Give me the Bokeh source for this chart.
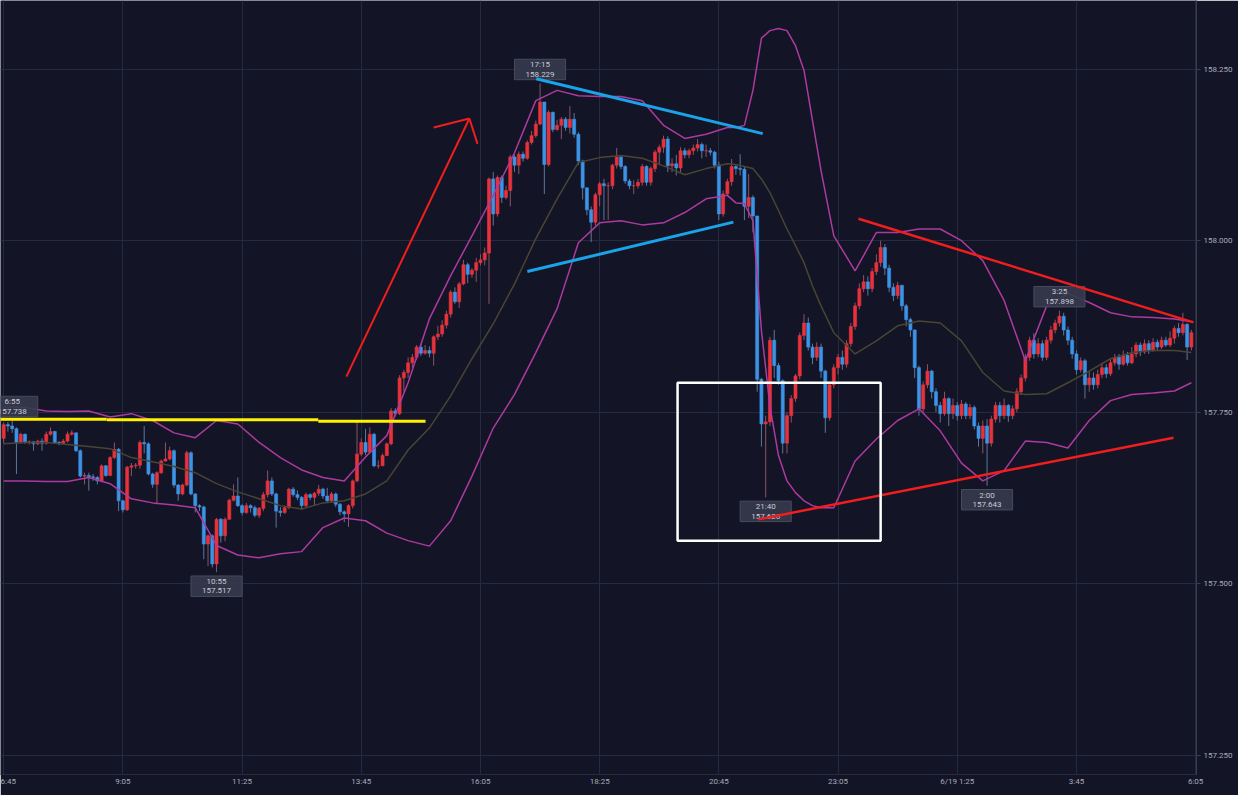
from bokeh.plotting import figure
from bokeh.models import Range1d, FixedTicker, NumeralTickFormatter
from bokeh.embed import file_html
from bokeh.resources import INLINE
from bokeh.core.properties import value

# ---------------- data (USD/JPY 5-minute candles, 6/18 6:45 -> 6/19 6:00) ----------------
first_open = 157.712
closes = [
    157.732, 157.730, 157.726, 157.706, 157.718, 157.706, 157.707, 157.704, 157.708, 157.705,
    157.718, 157.722, 157.706, 157.705, 157.708, 157.718, 157.720, 157.694, 157.657, 157.658,
    157.656, 157.655, 157.650, 157.672, 157.658, 157.684, 157.696, 157.621, 157.608, 157.670,
    157.672, 157.673, 157.706, 157.704, 157.660, 157.645, 157.662, 157.679, 157.682, 157.694,
    157.644, 157.631, 157.644, 157.691, 157.631, 157.614, 157.612, 157.558, 157.570, 157.529,
    157.594, 157.570, 157.594, 157.622, 157.628, 157.614, 157.604, 157.614, 157.611, 157.600,
    157.610, 157.630, 157.650, 157.631, 157.606, 157.604, 157.611, 157.638, 157.630, 157.626,
    157.614, 157.630, 157.626, 157.632, 157.638, 157.628, 157.621, 157.631, 157.616, 157.605,
    157.602, 157.614, 157.650, 157.689, 157.706, 157.692, 157.718, 157.672, 157.672, 157.687,
    157.704, 157.752, 157.748, 157.800, 157.808, 157.822, 157.830, 157.845, 157.836, 157.840,
    157.836, 157.860, 157.864, 157.877, 157.893, 157.925, 157.911, 157.937, 157.965, 157.951,
    157.957, 157.968, 157.972, 157.982, 158.090, 158.039, 158.092, 158.063, 158.073, 158.122,
    158.110, 158.126, 158.120, 158.143, 158.153, 158.170, 158.202, 158.111, 158.187, 158.162,
    158.168, 158.177, 158.165, 158.177, 158.155, 158.116, 158.077, 158.045, 158.027, 158.067,
    158.083, 158.080, 158.080, 158.110, 158.122, 158.108, 158.087, 158.080, 158.080, 158.085,
    158.108, 158.085, 158.105, 158.129, 158.136, 158.148, 158.109, 158.112, 158.106, 158.131,
    158.125, 158.131, 158.135, 158.140, 158.131, 158.131, 158.129, 158.110, 158.039, 158.068,
    158.086, 158.108, 158.105, 158.104, 158.050, 158.063, 158.036, 157.798, 157.733, 157.736,
    157.855, 157.818, 157.796, 157.705, 157.745, 157.770, 157.803, 157.862, 157.880, 157.845,
    157.830, 157.845, 157.810, 157.742, 157.790, 157.815, 157.830, 157.820, 157.850, 157.875,
    157.905, 157.930, 157.940, 157.930, 157.955, 157.968, 157.990, 157.960, 157.932, 157.920,
    157.935, 157.905, 157.885, 157.870, 157.815, 157.755, 157.790, 157.810, 157.780, 157.760,
    157.748, 157.770, 157.748, 157.760, 157.745, 157.762, 157.745, 157.757, 157.730, 157.712,
    157.730, 157.705, 157.740, 157.760, 157.745, 157.760, 157.745, 157.755, 157.780, 157.800,
    157.830, 157.855, 157.835, 157.850, 157.830, 157.855, 157.870, 157.880, 157.890, 157.870,
    157.855, 157.835, 157.812, 157.825, 157.790, 157.800, 157.790, 157.805, 157.815, 157.806,
    157.822, 157.830, 157.820, 157.833, 157.822, 157.835, 157.848, 157.838, 157.850, 157.840,
    157.852, 157.845, 157.855, 157.848, 157.858, 157.872, 157.866, 157.878, 157.845, 157.866,
]
highs = [
    157.735, 157.736, 157.738, 157.728, 157.720, 157.719, 157.709, 157.708, 157.710, 157.712,
    157.722, 157.728, 157.723, 157.708, 157.711, 157.722, 157.724, 157.720, 157.696, 157.662,
    157.662, 157.660, 157.657, 157.674, 157.673, 157.686, 157.706, 157.698, 157.622, 157.672,
    157.676, 157.676, 157.709, 157.730, 157.706, 157.662, 157.664, 157.681, 157.706, 157.700,
    157.696, 157.645, 157.646, 157.694, 157.693, 157.632, 157.616, 157.614, 157.572, 157.572,
    157.596, 157.596, 157.597, 157.624, 157.645, 157.655, 157.616, 157.618, 157.616, 157.614,
    157.612, 157.634, 157.665, 157.655, 157.633, 157.612, 157.614, 157.640, 157.641, 157.636,
    157.628, 157.633, 157.632, 157.634, 157.644, 157.640, 157.640, 157.634, 157.633, 157.618,
    157.607, 157.616, 157.652, 157.736, 157.712, 157.726, 157.728, 157.720, 157.680, 157.690,
    157.706, 157.756, 157.756, 157.804, 157.812, 157.830, 157.835, 157.848, 157.850, 157.848,
    157.846, 157.862, 157.876, 157.884, 157.898, 157.928, 157.932, 157.940, 157.972, 157.968,
    157.960, 157.975, 157.980, 157.990, 158.092, 158.100, 158.095, 158.095, 158.080, 158.125,
    158.125, 158.130, 158.130, 158.146, 158.160, 158.175, 158.229, 158.202, 158.190, 158.188,
    158.176, 158.180, 158.180, 158.196, 158.186, 158.158, 158.118, 158.075, 158.050, 158.070,
    158.086, 158.090, 158.085, 158.112, 158.135, 158.124, 158.110, 158.090, 158.088, 158.090,
    158.112, 158.110, 158.108, 158.132, 158.140, 158.153, 158.152, 158.120, 158.125, 158.136,
    158.135, 158.134, 158.140, 158.148, 158.143, 158.140, 158.135, 158.131, 158.115, 158.073,
    158.090, 158.119, 158.110, 158.126, 158.108, 158.097, 158.066, 158.036, 157.800, 157.745,
    157.860, 157.870, 157.822, 157.798, 157.750, 157.775, 157.806, 157.866, 157.893, 157.888,
    157.850, 157.852, 157.850, 157.812, 157.795, 157.820, 157.835, 157.840, 157.855, 157.880,
    157.910, 157.938, 157.950, 157.948, 157.960, 157.980, 158.000, 157.995, 157.965, 157.938,
    157.940, 157.925, 157.908, 157.888, 157.870, 157.818, 157.795, 157.820, 157.812, 157.785,
    157.765, 157.780, 157.772, 157.770, 157.765, 157.768, 157.765, 157.762, 157.760, 157.735,
    157.738, 157.740, 157.745, 157.765, 157.765, 157.770, 157.762, 157.760, 157.785, 157.805,
    157.835, 157.860, 157.865, 157.858, 157.855, 157.860, 157.876, 157.885, 157.898, 157.895,
    157.875, 157.860, 157.840, 157.830, 157.828, 157.810, 157.808, 157.812, 157.822, 157.820,
    157.828, 157.835, 157.835, 157.840, 157.838, 157.845, 157.852, 157.852, 157.856, 157.855,
    157.858, 157.856, 157.860, 157.860, 157.868, 157.876, 157.880, 157.895, 157.880, 157.870,
]
lows = [
    157.705, 157.722, 157.720, 157.660, 157.704, 157.704, 157.703, 157.694, 157.702, 157.694,
    157.703, 157.716, 157.704, 157.702, 157.703, 157.706, 157.716, 157.692, 157.655, 157.645,
    157.636, 157.650, 157.645, 157.648, 157.656, 157.657, 157.682, 157.606, 157.604, 157.606,
    157.657, 157.668, 157.668, 157.690, 157.658, 157.640, 157.616, 157.660, 157.678, 157.680,
    157.640, 157.621, 157.629, 157.642, 157.629, 157.604, 157.606, 157.536, 157.526, 157.524,
    157.517, 157.560, 157.562, 157.594, 157.620, 157.612, 157.600, 157.602, 157.604, 157.597,
    157.596, 157.606, 157.626, 157.628, 157.582, 157.598, 157.602, 157.609, 157.627, 157.622,
    157.608, 157.612, 157.622, 157.614, 157.628, 157.624, 157.618, 157.618, 157.612, 157.600,
    157.590, 157.583, 157.610, 157.648, 157.686, 157.688, 157.690, 157.670, 157.668, 157.672,
    157.686, 157.702, 157.744, 157.746, 157.780, 157.800, 157.815, 157.826, 157.832, 157.834,
    157.830, 157.818, 157.855, 157.860, 157.872, 157.888, 157.908, 157.902, 157.935, 157.938,
    157.946, 157.940, 157.964, 157.964, 157.908, 158.022, 158.035, 158.055, 158.060, 158.050,
    158.100, 158.097, 158.115, 158.118, 158.140, 158.150, 158.168, 158.068, 158.108, 158.158,
    158.160, 158.148, 158.160, 158.156, 158.150, 158.110, 158.060, 158.037, 157.998, 158.022,
    158.050, 158.030, 158.030, 158.075, 158.105, 158.104, 158.083, 158.075, 158.068, 158.076,
    158.080, 158.080, 158.080, 158.100, 158.110, 158.128, 158.100, 158.100, 158.095, 158.100,
    158.120, 158.120, 158.125, 158.130, 158.120, 158.122, 158.124, 158.105, 158.030, 158.035,
    158.065, 158.080, 158.096, 158.095, 158.030, 158.033, 158.012, 157.780, 157.700, 157.626,
    157.730, 157.800, 157.790, 157.690, 157.690, 157.735, 157.765, 157.798, 157.855, 157.840,
    157.820, 157.825, 157.800, 157.720, 157.738, 157.785, 157.805, 157.812, 157.815, 157.845,
    157.870, 157.900, 157.925, 157.920, 157.925, 157.950, 157.962, 157.950, 157.925, 157.912,
    157.915, 157.898, 157.875, 157.860, 157.800, 157.745, 157.750, 157.785, 157.770, 157.750,
    157.735, 157.745, 157.730, 157.740, 157.738, 157.740, 157.740, 157.740, 157.725, 157.700,
    157.690, 157.643, 157.700, 157.735, 157.735, 157.740, 157.736, 157.740, 157.750, 157.775,
    157.795, 157.825, 157.828, 157.830, 157.825, 157.826, 157.850, 157.865, 157.875, 157.862,
    157.848, 157.828, 157.805, 157.808, 157.770, 157.780, 157.783, 157.785, 157.800, 157.800,
    157.803, 157.818, 157.812, 157.818, 157.818, 157.820, 157.830, 157.832, 157.835, 157.835,
    157.838, 157.840, 157.842, 157.845, 157.845, 157.850, 157.860, 157.862, 157.826, 157.840,
]

# x-axis ticks (bar index -> time label)
x_tick_bars = [0, 28, 56, 84, 112, 140, 168, 196, 224, 252, 280]
x_tick_labels = ["6:45", "9:05", "11:25", "13:45", "16:05", "18:25",
                 "20:45", "23:05", "6/19 1:25", "3:45", "6:05"]
y_ticks = [157.25, 157.5, 157.75, 158.0, 158.25]

# Bollinger bands (bar index, upper, middle, lower)
band_bars = [0, 5, 10, 15, 20, 25, 30, 35, 40, 45, 50, 55, 60, 65, 70, 75, 80, 85, 90, 95,
             100, 105, 110, 115, 120, 125, 130, 135, 140, 145, 150, 155, 160, 165, 170,
             172, 174, 176, 178, 180, 182, 184, 186, 188, 190, 192, 195,
             200, 205, 210, 215, 220, 225, 230, 235, 240, 245, 250, 255, 260, 265, 270, 275, 279]
bb_upper = [157.758, 157.757, 157.752, 157.751, 157.752, 157.743, 157.748, 157.738, 157.720, 157.713,
            157.738, 157.733, 157.706, 157.684, 157.666, 157.655, 157.650, 157.685, 157.716, 157.793,
            157.886, 157.949, 158.007, 158.066, 158.128, 158.204, 158.219, 158.211, 158.210, 158.210,
            158.204, 158.168, 158.149, 158.155, 158.165,
            158.165, 158.168, 158.219, 158.295, 158.306, 158.309, 158.306, 158.284, 158.248, 158.175,
            158.102, 158.007,
            157.956, 158.012, 158.012, 158.017, 158.017, 158.000, 157.971, 157.913, 157.825, 157.905,
            157.923, 157.910, 157.895, 157.889, 157.888, 157.886, 157.882]
bb_mid = [157.704, 157.706, 157.706, 157.703, 157.700, 157.697, 157.684, 157.678, 157.671, 157.662,
          157.646, 157.634, 157.624, 157.614, 157.609, 157.618, 157.621, 157.631, 157.650, 157.695,
          157.727, 157.774, 157.828, 157.879, 157.937, 158.003, 158.061, 158.114, 158.121, 158.124,
          158.120, 158.109, 158.096, 158.105, 158.112,
          158.111, 158.108, 158.105, 158.090, 158.070, 158.044, 158.017, 157.993, 157.968, 157.934,
          157.905, 157.866,
          157.835, 157.854, 157.876, 157.883, 157.880, 157.854, 157.808, 157.781, 157.776, 157.777,
          157.793, 157.810, 157.828, 157.837, 157.840, 157.840, 157.837]
bb_lower = [157.650, 157.650, 157.649, 157.649, 157.655, 157.646, 157.624, 157.618, 157.615, 157.611,
            157.556, 157.542, 157.538, 157.544, 157.547, 157.582, 157.596, 157.592, 157.574, 157.563,
            157.555, 157.592, 157.657, 157.727, 157.776, 157.837, 157.901, 157.997, 158.026, 158.029,
            158.023, 158.026, 158.041, 158.061, 158.066,
            158.055, 158.054, 158.029, 157.869, 157.759, 157.687, 157.650, 157.633, 157.621, 157.614,
            157.611, 157.611,
            157.679, 157.711, 157.738, 157.755, 157.723, 157.676, 157.650, 157.665, 157.708, 157.706,
            157.698, 157.738, 157.767, 157.776, 157.778, 157.781, 157.793]

# high / low markers
marker_bars = [2, 50, 126, 179, 231, 248]
marker_times = ["6:55", "10:55", "17:15", "21:40", "2:00", "3:25"]
marker_prices = [157.738, 157.517, 158.229, 157.626, 157.643, 157.898]
marker_is_high = [True, False, True, False, False, True]

# hand-drawn annotations (bar index, price)
yellow_x = [[-0.8, 24.2], [24.2, 73.9], [73.9, 99.1]]
yellow_y = [[157.740, 157.740], [157.739, 157.739], [157.737, 157.737]]
arrow_x = [[80.5, 109.4], [101.0, 109.4], [109.4, 111.3]]
arrow_y = [[157.802, 158.178], [158.165, 158.178], [158.178, 158.141]]
blue_x = [[125.1, 178.3], [123.0, 171.4]]
blue_y = [[158.236, 158.156], [157.955, 158.027]]
red_x = [[200.8, 279.5], [177.3, 274.8]]
red_y = [[158.032, 157.881], [157.594, 157.713]]
box_left, box_right, box_top, box_bottom = 158.3, 206.0, 157.793, 157.563

# ---------------- derived ----------------
bars = list(range(len(closes)))
opens = [first_open] + closes[:-1]
hi = [max(h, o, c) for h, o, c in zip(highs, opens, closes)]
lo = [min(l, o, c) for l, o, c in zip(lows, opens, closes)]
UP, DOWN = "#e8323b", "#3d93e6"
UPW, DOWNW = "#8a5566", "#5b789d"
is_up = [c >= o for o, c in zip(opens, closes)]
body_col = [UP if u else DOWN for u in is_up]
wick_col = [UPW if u else DOWNW for u in is_up]
tops = [max(o, c) for o, c in zip(opens, closes)]
bots = [min(o, c) for o, c in zip(opens, closes)]

BG = "#131426"
GRID = "#262a3e"
TXT = "#a9acb8"

p = figure(width=1238, height=795,
           x_range=Range1d(-0.75, 280.2), y_range=Range1d(157.2223, 158.3499),
           y_axis_location="right", output_backend="svg", toolbar_location=None,
           min_border_left=0, min_border_top=0, min_border_right=42, min_border_bottom=21,
           background_fill_color=BG, border_fill_color=BG, outline_line_color=None)

p.xgrid.ticker = FixedTicker(ticks=x_tick_bars)
p.ygrid.ticker = FixedTicker(ticks=y_ticks)
p.grid.grid_line_color = GRID
p.grid.grid_line_width = 1

p.xaxis.ticker = FixedTicker(ticks=x_tick_bars)
p.xaxis.major_label_overrides = {b: l for b, l in zip(x_tick_bars, x_tick_labels)}
p.xaxis.axis_line_color = GRID
p.xaxis.major_tick_line_color = None
p.xaxis.major_tick_out = 0
p.xaxis.major_tick_in = 0
p.xaxis.minor_tick_line_color = None
p.xaxis.major_label_standoff = 2
p.xaxis.major_label_text_font = "Roboto"
p.xaxis.major_label_text_font_size = "8px"
p.xaxis.major_label_text_color = TXT

p.yaxis.ticker = FixedTicker(ticks=y_ticks)
p.yaxis.formatter = NumeralTickFormatter(format="0.000")
p.yaxis.axis_line_color = "#3a3d50"
p.yaxis.major_tick_line_color = "#3a3d50"
p.yaxis.major_tick_out = 4
p.yaxis.major_tick_in = 0
p.yaxis.minor_tick_line_color = None
p.yaxis.major_label_standoff = 3
p.yaxis.major_label_text_font = "Roboto"
p.yaxis.major_label_text_font_size = "8px"
p.yaxis.major_label_text_color = TXT

# candles
p.segment(x0=bars, y0=hi, x1=bars, y1=lo, line_color=wick_col, line_width=1)
p.vbar(x=bars, width=0.72, top=tops, bottom=bots, fill_color=body_col,
       line_color=body_col, line_width=0.6)

# Bollinger bands
p.line(band_bars, bb_mid, line_color="#4a4532", line_width=1.5)
p.line(band_bars, bb_upper, line_color="#ad3a9f", line_width=1.5)
p.line(band_bars, bb_lower, line_color="#ad3a9f", line_width=1.5)

# high/low markers
p.text(x=marker_bars, y=marker_prices,
       text=[t + "\n" + f"{v:.3f}" for t, v in zip(marker_times, marker_prices)],
       y_offset=[-14 if h else 14 for h in marker_is_high],
       text_align="center", text_baseline="middle",
       text_font=value("Roboto"), text_font_size="8px", text_color="#c8cbd5",
       text_line_height=1.05,
       background_fill_color="#363a4d", background_fill_alpha=0.9,
       border_line_color="#474b5e", border_line_width=1,
       padding=(11, 1))

# annotations
for xs, ys in zip(yellow_x, yellow_y):
    p.line(xs, ys, line_color="#fff200", line_width=3)
for xs, ys in zip(arrow_x, arrow_y):
    p.line(xs, ys, line_color="#f01e1e", line_width=2)
for xs, ys in zip(blue_x, blue_y):
    p.line(xs, ys, line_color="#1ba3ea", line_width=3)
for xs, ys in zip(red_x, red_y):
    p.line(xs, ys, line_color="#f01e1e", line_width=2.5)
p.quad(left=[box_left], right=[box_right], top=[box_top], bottom=[box_bottom],
       fill_alpha=0, line_color="#ffffff", line_width=2.5)

open("out.html", "w").write(file_html(p, INLINE))
